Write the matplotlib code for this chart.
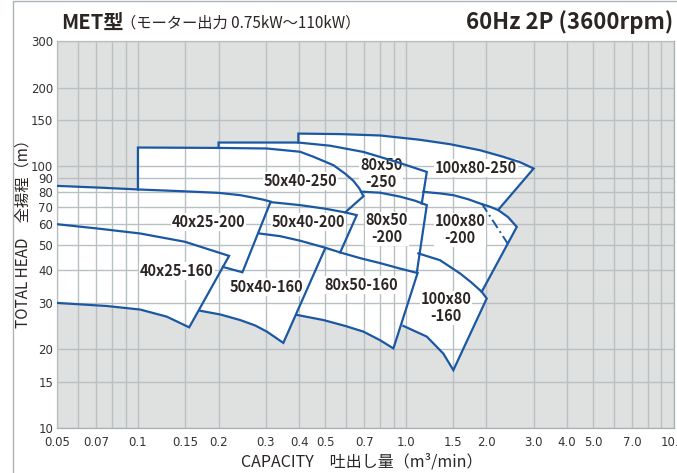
import matplotlib.pyplot as plt
from matplotlib.patches import Rectangle
from matplotlib.ticker import NullFormatter

plt.rcParams['font.family'] = ['Noto Sans CJK JP', 'DejaVu Sans']

BLUE = '#1b58a3'
BG = '#dfe0e0'
GRID = '#b9c0c2'
INK = '#2b2624'

# axis ticks and grid (capacity m3/min, head m)
x_ticks = [0.05, 0.07, 0.1, 0.15, 0.2, 0.3, 0.4, 0.5, 0.7, 1.0, 1.5, 2.0, 3.0, 4.0, 5.0, 7.0, 10.0]
x_tick_labels = ['0.05', '0.07', '0.1', '0.15', '0.2', '0.3', '0.4', '0.5', '0.7',
                 '1.0', '1.5', '2.0', '3.0', '4.0', '5.0', '7.0', '10.0']
x_minor = [0.06, 0.08, 0.09, 0.6, 0.8, 0.9, 6.0, 8.0, 9.0]
y_ticks = [10, 15, 20, 30, 40, 50, 60, 70, 80, 90, 100, 150, 200, 300]

# pump ranges: (Q, H) along the visible outline, then the part hidden under the neighbours
line_100x80_250 = [(0.397, 123.2), (0.397, 133.3), (0.569, 132.7), (0.802, 131.1), (1.131, 126.2),
                   (1.463, 121.4), (1.894, 115.1), (2.307, 108.7), (2.670, 103.6), (3.0, 98.0),
                   (2.216, 68.2)]
hide_100x80_250 = [(1.738, 71.6), (1.343, 74.8), (1.131, 76.8), (0.403, 96.5)]

line_100x80_200 = [(1.163, 79.8), (1.343, 78.7), (1.505, 77.5), (1.708, 74.8), (1.894, 72.0),
                   (2.063, 70.0), (2.216, 67.9), (2.408, 63.9), (2.596, 58.6), (1.921, 33.1)]
hide_100x80_200 = [(1.738, 36.4), (1.463, 40.4), (1.232, 43.7), (1.083, 47.8), (1.04, 74.2)]

line_100x80_160 = [(1.114, 46.4), (1.343, 43.7), (1.594, 38.9), (1.753, 36.0), (1.921, 33.1),
                   (2.005, 31.2), (1.505, 16.6), (1.381, 19.2), (1.198, 22.3), (0.980, 24.5)]
hide_100x80_160 = [(0.912, 30.8), (0.994, 46.9)]

line_80x50_250 = [(0.2, 117.5), (0.2, 123.2), (0.397, 123.2), (0.522, 119.8), (0.695, 113.4),
                  (0.926, 103.8), (1.198, 95.1), (1.147, 72.0)]
hide_80x50_250 = [(0.802, 75.5), (0.569, 81.0), (0.203, 88.4)]

line_80x50_200 = [(0.681, 79.9), (0.802, 79.2), (0.952, 76.5), (1.083, 73.8), (1.198, 71.0),
                  (1.099, 39.1), (0.952, 40.6), (0.802, 42.6), (0.676, 44.5), (0.569, 46.8)]
hide_80x50_200 = [(0.594, 56.9), (0.569, 65.6), (0.594, 79.6)]

line_80x50_160 = [(0.392, 27.0), (0.493, 25.8), (0.594, 24.5), (0.695, 23.3), (0.802, 21.6),
                  (0.899, 20.1), (1.107, 39.1)]
hide_80x50_160 = [(0.952, 41.1), (0.736, 44.5), (0.569, 47.3), (0.440, 48.2), (0.376, 27.4)]

line_50x40_250 = [(0.1, 81.5), (0.1, 117.9), (0.2, 117.5), (0.303, 116.9), (0.403, 113.6),
                  (0.452, 108.7), (0.537, 100.9), (0.594, 93.6), (0.637, 88.0), (0.670, 82.4),
                  (0.695, 76.8), (0.594, 66.6)]
hide_50x40_250 = [(0.403, 71.0), (0.102, 79.6)]

line_50x40_200 = [(0.313, 72.9), (0.403, 71.0), (0.5, 68.8), (0.594, 66.6), (0.656, 65.0),
                  (0.569, 46.8), (0.5, 48.8), (0.403, 51.9), (0.340, 54.0), (0.284, 55.3)]
hide_50x40_200 = []

line_50x40_160 = [(0.171, 28.0), (0.203, 27.1), (0.241, 25.8), (0.274, 24.6), (0.303, 23.3),
                  (0.349, 21.1), (0.5, 48.5)]
hide_50x40_160 = [(0.403, 52.2), (0.291, 55.9), (0.241, 51.2), (0.194, 43.0), (0.165, 28.2)]

line_40x25_200 = [(0.045, 84.5), (0.05, 84.1), (0.0723, 82.8), (0.1, 81.5), (0.144, 80.3),
                  (0.2, 79.1), (0.241, 77.5), (0.270, 75.8), (0.2935, 74.5), (0.313, 73.2),
                  (0.2456, 39.3), (0.2075, 41.2)]
hide_40x25_200 = [(0.102, 52.2), (0.045, 55.9)]

line_40x25_160 = [(0.045, 60.3), (0.05, 60.0), (0.0715, 57.7), (0.102, 55.3), (0.15, 51.4),
                  (0.197, 47.0), (0.219, 45.4), (0.1554, 24.2), (0.128, 26.6), (0.102, 28.3),
                  (0.0766, 29.2), (0.05, 30.0), (0.045, 30.1)]
hide_40x25_160 = []

pumps = [
    (line_100x80_250, hide_100x80_250), (line_100x80_200, hide_100x80_200),
    (line_100x80_160, hide_100x80_160), (line_80x50_250, hide_80x50_250),
    (line_80x50_200, hide_80x50_200), (line_80x50_160, hide_80x50_160),
    (line_50x40_250, hide_50x40_250), (line_50x40_200, hide_50x40_200),
    (line_50x40_160, hide_50x40_160), (line_40x25_200, hide_40x25_200),
    (line_40x25_160, hide_40x25_160),
]

# motor limit (dash-dot) inside 100x80-200
limit_q = [1.921, 2.398]
limit_h = [72.0, 50.7]

labels = ['50x40-250', '80x50\n-250', '100x80-250', '40x25-200', '50x40-200', '80x50\n-200',
          '100x80\n-200', '40x25-160', '50x40-160', '80x50-160', '100x80\n-160']
label_q = [0.403, 0.809, 1.83, 0.183, 0.432, 0.85, 1.59, 0.140, 0.301, 0.681, 1.414]
label_h = [87.7, 94.0, 98.3, 61.3, 61.3, 57.7, 57.2, 39.7, 34.5, 35.1, 28.8]


fig = plt.figure(figsize=(6.77, 4.73), dpi=100)
ax = fig.add_axes([0.0846, 0.0958, 0.9105, 0.8165])
ax.set_xscale('log')
ax.set_yscale('log')
ax.set_xlim(0.05, 10)
ax.set_ylim(10, 300)
ax.set_facecolor(BG)

for line, hide in pumps:
    pts = line + hide
    ax.fill([p[0] for p in pts], [p[1] for p in pts], color='white', lw=0, zorder=1)
for line, hide in pumps:
    ax.plot([p[0] for p in line], [p[1] for p in line], color=BLUE, lw=1.6,
            solid_joinstyle='miter', zorder=3)
ax.plot(limit_q, limit_h, color=BLUE, lw=1.4, ls=(0, (5, 2, 1, 2)), zorder=3)

for s, q, h in zip(labels, label_q, label_h):
    ax.text(q, h, s, ha='center', va='center', fontsize=10.5, weight='bold', color=INK,
            linespacing=1.05, zorder=2.8,
            bbox=dict(boxstyle='square,pad=0.05', fc='white', ec='none'))

ax.set_xticks(x_ticks, labels=x_tick_labels)
ax.set_xticks(x_minor, minor=True)
ax.xaxis.set_minor_formatter(NullFormatter())
ax.set_yticks(y_ticks, labels=[str(v) for v in y_ticks])
ax.yaxis.set_minor_locator(plt.NullLocator())
ax.tick_params(which='both', length=0, labelsize=8.5, labelcolor='#333333', pad=3)
ax.tick_params(axis='x', pad=6)
for lab in ax.get_xticklabels() + ax.get_yticklabels():
    lab.set_family(['Liberation Sans Narrow', 'DejaVu Sans'])
ax.set_axisbelow(False)
ax.grid(True, which='both', color=GRID, lw=1.0)
for sp in ax.spines.values():
    sp.set_color('#a9b1b4')
    sp.set_linewidth(0.9)

# frame and titles
fig.add_artist(Rectangle((12.5 / 677, -0.05), 1.1, 1.05 - 1.5 / 473, transform=fig.transFigure,
                         fill=False, ec='#a9b3b8', lw=1.0))
fig.text(61 / 677, 1 - 22 / 473, 'MET型', ha='left', va='center', fontsize=14.5, weight='bold',
         color=INK)
fig.text(121 / 677, 1 - 23 / 473, '（モーター出力 0.75kW～110kW）', ha='left', va='center',
         fontsize=11, color=INK)
fig.text(673 / 677, 1 - 22 / 473, '60Hz 2P (3600rpm)', ha='right', va='center', fontsize=16,
         weight='bold', color=INK)
fig.text(362 / 677, 1 - 462 / 473, 'CAPACITY　吐出し量（m³/min）', ha='center', va='center',
         fontsize=11.5, color=INK)
fig.text(23 / 677, 1 - 230 / 473, 'TOTAL HEAD　全揚程（m）', ha='center', va='center',
         rotation=90, fontsize=11, color=INK)

fig.savefig('out.png', dpi=100)
